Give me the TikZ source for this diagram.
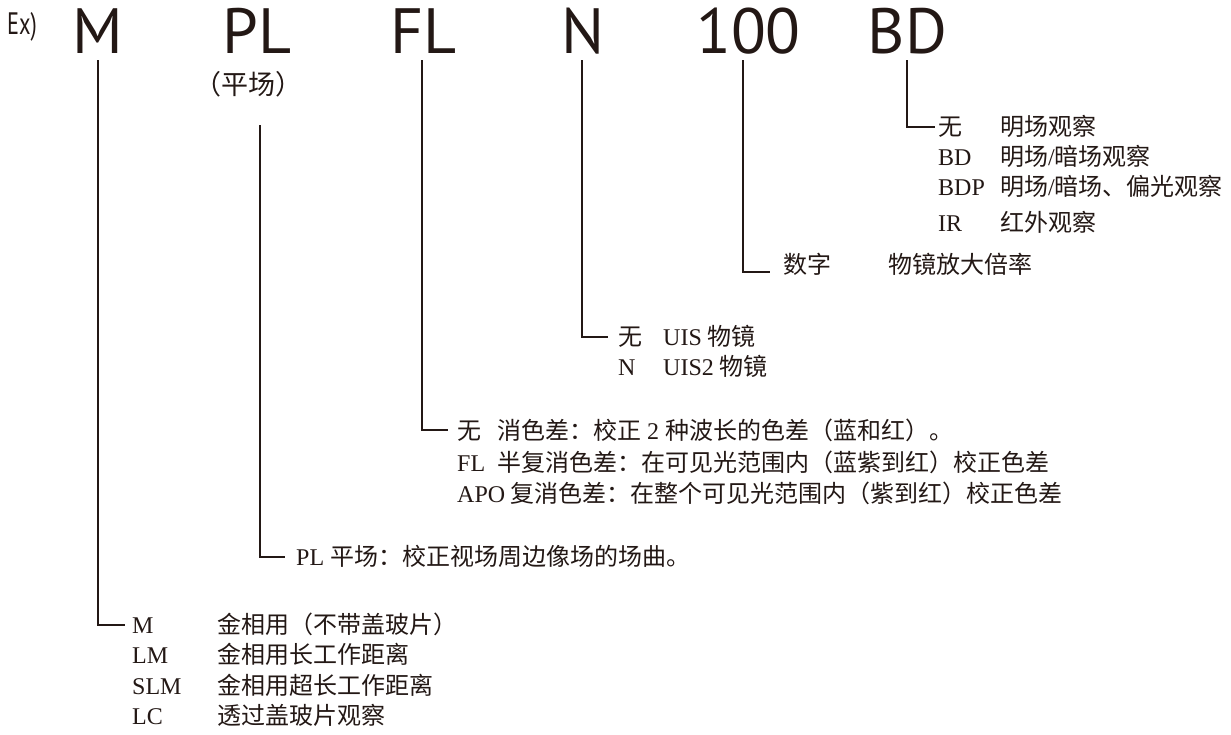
\documentclass[tikz,border=0pt]{standalone}
\usepackage{fontspec}
\setmainfont{Liberation Serif}
\newfontfamily\cjk[Scale=1.0]{Noto Sans CJK SC}
\newfontfamily\hd{PT Sans}
\newcommand\zh[1]{{\cjk #1}}
\definecolor{ink}{HTML}{231815}
\begin{document}
\begin{tikzpicture}[x=1pt,y=-1pt,
  big/.style={font=\hd\fontsize{64}{64}\selectfont, anchor=base, inner sep=0pt, text=ink},
  txt/.style={font=\fontsize{24}{24}\selectfont, anchor=base west, inner sep=0pt, text=ink},
  lead/.style={draw=ink, line width=1.7pt}]
\useasboundingbox (0,0) rectangle (1231,734);
% heading
\node[font=\hd\fontsize{31}{31}\selectfont, anchor=base west, inner sep=0pt, text=ink] (ex) at (7,34) {\scalebox{0.72}[1]{Ex)}};
\node[big] (m)   at (97.5,53) {M};
\node[big] (pl)  at (257,53) {PL};
\node[big] (fl)  at (423.5,53) {FL};
\node[big] (n)   at (583.5,53) {N};
\node[big] (hun) at (748.5,53) {100};
\node[big] (bd)  at (907.5,53) {BD};
\node[font=\cjk\fontsize{27}{27}\selectfont, anchor=center, inner sep=0pt, text=ink] (plz) at (248,84) {（平场）};
% line tops
\coordinate (m0) at (98,60);
\coordinate (pl0) at (260,125);
\coordinate (fl0) at (422,60);
\coordinate (n0) at (582,60);
\coordinate (hun0) at (743,60);
\coordinate (bd0) at (907,60);
% BD group
\node[txt] (bd1a) at (938,135) {\zh{无}};
\node[txt] (bd1b) at (1000,135) {\zh{明场观察}};
\node[txt] (bd2a) at (938,165) {BD};
\node[txt] (bd2b) at (1000,165) {\zh{明场}/\zh{暗场观察}};
\node[txt] (bd3a) at (938,195) {BDP};
\node[txt] (bd3b) at (1000,195) {\zh{明场}/\zh{暗场、偏光观察}};
\node[txt] (bd4a) at (938,231) {IR};
\node[txt] (bd4b) at (1000,231) {\zh{红外观察}};
% 100 group
\node[txt] (h1a) at (783,273) {\zh{数字}};
\node[txt] (h1b) at (888,273) {\zh{物镜放大倍率}};
% N group
\node[txt] (n1a) at (618,345) {\zh{无}};
\node[txt] (n1b) at (663,345) {UIS \zh{物镜}};
\node[txt] (n2a) at (618,375) {N};
\node[txt] (n2b) at (663,375) {UIS2 \zh{物镜}};
% FL group
\node[txt] (f1a) at (457,439) {\zh{无}};
\node[txt] (f1b) at (497,439) {\zh{消色差：校正} 2 \zh{种波长的色差（蓝和红）。}};
\node[txt] (f2a) at (457,471) {FL};
\node[txt] (f2b) at (497,471) {\zh{半复消色差：在可见光范围内（蓝紫到红）校正色差}};
\node[txt] (f3a) at (457,502) {APO};
\node[txt] (f3b) at (510,502) {\zh{复消色差：在整个可见光范围内（紫到红）校正色差}};
% PL group
\node[txt] (p1) at (296,565) {PL \zh{平场：校正视场周边像场的场曲。}};
% M group
\node[txt] (m1a) at (132,633) {M};
\node[txt] (m1b) at (217,633) {\zh{金相用（不带盖玻片）}};
\node[txt] (m2a) at (132,663) {LM};
\node[txt] (m2b) at (217,663) {\zh{金相用长工作距离}};
\node[txt] (m3a) at (132,694) {SLM};
\node[txt] (m3b) at (217,694) {\zh{金相用超长工作距离}};
\node[txt] (m4a) at (132,724) {LC};
\node[txt] (m4b) at (217,724) {\zh{透过盖玻片观察}};
% leaders
\draw[lead] (bd0) |- ([xshift=-3pt,yshift=8pt]bd1a.base west);
\draw[lead] (hun0) |- ([xshift=-13pt,yshift=1pt]h1a.base west);
\draw[lead] (n0) |- ([xshift=-10pt,yshift=8pt]n1a.base west);
\draw[lead] (fl0) |- ([xshift=-9pt,yshift=9pt]f1a.base west);
\draw[lead] (pl0) |- ([xshift=-11pt,yshift=8pt]p1.base west);
\draw[lead] (m0) |- ([xshift=-7pt,yshift=8pt]m1a.base west);
\end{tikzpicture}
\end{document}
